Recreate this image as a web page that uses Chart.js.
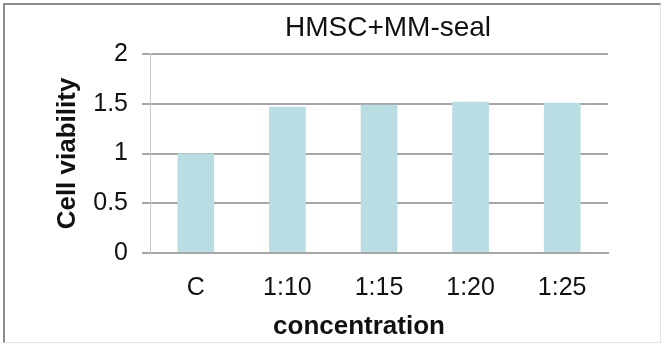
<!DOCTYPE html>
<html>
<head>
<meta charset="utf-8">
<script src="https://cdn.jsdelivr.net/npm/chart.js@4/dist/chart.umd.min.js"></script>
<style>
  html, body { margin: 0; padding: 0; background: #fff; }
  #wrap { position: relative; width: 664px; height: 345px; }
  #frame { position: absolute; left: 3px; top: 3px; width: 655px; height: 337px;
           border-top: 2px solid #8c8c8c; border-left: 2px solid #8c8c8c;
           border-right: 1px solid #e4e4e4; border-bottom: 1px solid #e4e4e4; }
  canvas { position: absolute; left: 0; top: 0; }
</style>
</head>
<body>
<div id="wrap">
  <div id="frame"></div>
  <canvas id="grafico" width="664" height="345"></canvas>
</div>
<script>
var categorias = ["C", "1:10", "1:15", "1:20", "1:25"];
var viabilidade = [1.0, 1.47, 1.49, 1.52, 1.51];
var ticksY = ["0", "0.5", "1", "1.5", "2"];
var titulo = "HMSC+MM-seal";
var tituloX = "concentration";
var tituloY = "Cell viability";

var fonte = '"Liberation Sans", Arial, sans-serif';

// titulo e titulo do eixo x desenhados a mao (posicao como no original)
var textos = {
    id: "textos",
    afterDraw: function(chart){
        var c = chart.ctx;
        c.save();
        c.fillStyle = "#111";
        c.textAlign = "center";
        c.textBaseline = "alphabetic";
        c.font = "28px " + fonte;
        c.fillText(titulo, 388, 36);
        c.font = "bold 26px " + fonte;
        c.fillText(tituloX, 359, 334);
        c.restore();
    }
};

var ctx = document.getElementById("grafico");
var chart = new Chart(ctx, {
    type: "bar",
    data: {
        labels: categorias,
        datasets: [{
            label: "Cell viability",
            data: viabilidade,
            backgroundColor: "#badde3",
            borderWidth: 0,
            barPercentage: 0.4,
            categoryPercentage: 1.0
        }]
    },
    options: {
        responsive: false,
        animation: false,
        devicePixelRatio: 1,
        layout: { padding: { left: 0, right: 56, top: 54, bottom: 0 } },
        plugins: {
            legend: { display: false },
            tooltip: { enabled: false }
        },
        scales: {
            x: {
                grid: { display: false },
                border: { display: true, color: "#a6a6a6", width: 2 },
                ticks: { color: "#111", padding: 12, font: { family: fonte, size: 25 } },
                afterFit: function(s){ s.height = 92; }
            },
            y: {
                min: 0,
                max: 2,
                grid: { color: "#a6a6a6", lineWidth: 2, tickLength: 8, tickColor: "#a6a6a6" },
                border: { display: true, color: "#c8c8c8", width: 1 },
                ticks: {
                    stepSize: 0.5,
                    padding: 14,
                    color: "#111",
                    font: { family: fonte, size: 25 },
                    callback: function(v, i){ return ticksY[i]; }
                },
                title: {
                    display: true,
                    text: tituloY,
                    color: "#111",
                    padding: { top: 52, bottom: 0 },
                    font: { family: fonte, size: 26, weight: "bold" }
                },
                afterFit: function(s){ s.width = 150; }
            }
        }
    },
    plugins: [textos]
});
</script>
</body>
</html>
